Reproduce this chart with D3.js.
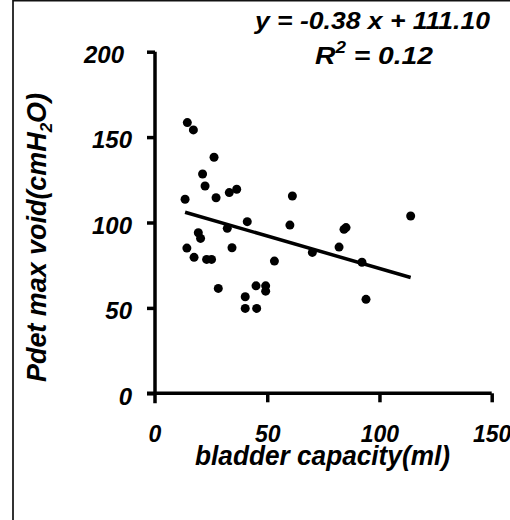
<!DOCTYPE html>
<html lang="en">
<head>
<meta charset="UTF-8">
<title>Pdet max void vs bladder capacity</title>
<style>
    body { margin: 0; background: #fff; }
    text { font-family: "Liberation Sans", Arial, sans-serif; font-weight: bold; font-style: italic; fill: #000; }
</style>
</head>
<body>
<div id="content"></div>
<script src="https://cdn.jsdelivr.net/npm/d3@7/dist/d3.min.js"></script>
<script>
    // data (bladder capacity in ml, Pdet max void in cmH2O)
    var capacity = [14.4, 17.1, 26.3, 21.2, 22.3, 27.2, 33.1, 36.4, 13.4, 61.2,
                    41.1, 32.2, 60.1, 19.3, 20.3, 14.2, 34.3, 113.9, 84.2, 85.1,
                    82.0, 70.1, 92.2, 94.0, 53.2, 17.4, 23.0, 25.2, 28.2, 40.2,
                    40.2, 45.3, 45.0, 49.3, 49.3];
    var pdetMax = [158.5, 154.2, 138.2, 128.4, 121.4, 114.5, 117.5, 119.5, 113.6, 115.5,
                   100.5, 96.6, 98.5, 94.0, 90.7, 85.0, 85.2, 103.8, 96.0, 97.0,
                   85.6, 82.5, 76.7, 55.0, 77.4, 79.6, 78.4, 78.4, 61.4, 56.5,
                   49.7, 49.7, 62.9, 62.9, 59.8];
    var xTicks = [0, 50, 100, 150];
    var yTicks = [0, 50, 100, 150, 200];
    var slope = -0.38, intercept = 111.10, rSquared = 0.12;
    var xTitle = "bladder capacity(ml)";

    var width = 510, height = 520;

    var svg = d3.select("#content")
        .append("svg")
        .attr("width", width)
        .attr("height", height);

    // frame (only left and top edges are visible in the picture)
    svg.append("line").attr("x1", 13).attr("x2", 13).attr("y1", 0).attr("y2", height)
        .attr("stroke", "#333").attr("stroke-width", 2);
    svg.append("line").attr("x1", 13).attr("x2", width).attr("y1", 0.75).attr("y2", 0.75)
        .attr("stroke", "#111").attr("stroke-width", 1.5);

    var xScale = d3.scaleLinear().domain([0, 150]).range([155, 491.7]);
    var yScale = d3.scaleLinear().domain([0, 200]).range([393.3, 51.7]);

    //axes
    var yAxisG = svg.append("g")
        .attr("transform", "translate(" + xScale(0) + ",0)")
        .call(d3.axisLeft(yScale).tickValues(yTicks).tickSize(8).tickPadding(15).tickSizeOuter(0));
    var xAxisG = svg.append("g")
        .attr("transform", "translate(0," + yScale(0) + ")")
        .call(d3.axisBottom(xScale).tickValues(xTicks.slice(1)).tickSize(9).tickPadding(23).tickSizeOuter(0));

    svg.selectAll(".domain").remove();
    svg.selectAll(".tick line").attr("stroke", "#000").attr("stroke-width", 3.5);
    svg.selectAll(".tick text").attr("font-family", null);
    yAxisG.selectAll(".tick text").attr("font-size", 24).attr("dy", "0.45em");
    yAxisG.selectAll(".tick text").filter(function (d) { return d === 200; }).attr("dx", -8);
    xAxisG.selectAll(".tick text").attr("font-size", 23);

    // zero label for x sits under the y axis
    xAxisG.append("text")
        .attr("x", xScale(0)).attr("y", 32).attr("dy", "0.71em")
        .attr("text-anchor", "middle").attr("font-size", 23)
        .text(xTicks[0]);

    // axis lines, crossing at the origin
    svg.append("line")
        .attr("x1", xScale(0)).attr("x2", xScale(0))
        .attr("y1", yScale(200)).attr("y2", yScale(0) + 10)
        .attr("stroke", "#000").attr("stroke-width", 3.5);
    svg.append("line")
        .attr("x1", xScale(0) - 8).attr("x2", xScale(150))
        .attr("y1", yScale(0)).attr("y2", yScale(0))
        .attr("stroke", "#000").attr("stroke-width", 3.5);

    // points
    var points = capacity.map(function (c, i) { return {x: c, y: pdetMax[i]}; });
    svg.append("g").selectAll("circle")
        .data(points)
        .enter().append("circle")
        .attr("cx", function (d) { return xScale(d.x); })
        .attr("cy", function (d) { return yScale(d.y); })
        .attr("r", 4.5)
        .attr("fill", "#000");

    // trend line over the data range
    var xr = d3.extent(capacity);
    var fit = xr.map(function (x) { return {x: x, y: slope * x + intercept}; });
    svg.append("path")
        .datum(fit)
        .attr("d", d3.line().x(function (d) { return xScale(d.x); }).y(function (d) { return yScale(d.y); }))
        .attr("stroke", "#000").attr("stroke-width", 3.5).attr("fill", "none");

    // equation
    svg.append("text")
        .attr("x", 372.5).attr("y", 29)
        .attr("text-anchor", "middle").attr("font-size", 24)
        .attr("textLength", 235).attr("lengthAdjust", "spacingAndGlyphs")
        .text("y = " + slope.toFixed(2) + " x + " + intercept.toFixed(2));
    var r2 = svg.append("text")
        .attr("x", 374).attr("y", 64)
        .attr("text-anchor", "middle").attr("font-size", 24)
        .attr("textLength", 118).attr("lengthAdjust", "spacingAndGlyphs");
    r2.append("tspan").text("R");
    r2.append("tspan").attr("dy", -11).attr("font-size", 16).text("2");
    r2.append("tspan").attr("dy", 11).text("  = " + rSquared.toFixed(2));

    // axis titles
    svg.append("text")
        .attr("x", 322.5).attr("y", 465)
        .attr("text-anchor", "middle").attr("font-size", 28)
        .attr("textLength", 255).attr("lengthAdjust", "spacingAndGlyphs")
        .text(xTitle);

    var yt = svg.append("text")
        .attr("transform", "translate(46,237.5) rotate(-90)")
        .attr("text-anchor", "middle").attr("font-size", 27)
        .attr("textLength", 289).attr("lengthAdjust", "spacingAndGlyphs");
    yt.append("tspan").text("Pdet max void(cmH");
    yt.append("tspan").attr("dy", 6).attr("font-size", 17).text("2");
    yt.append("tspan").attr("dy", -6).text("O)");
</script>
</body>
</html>
